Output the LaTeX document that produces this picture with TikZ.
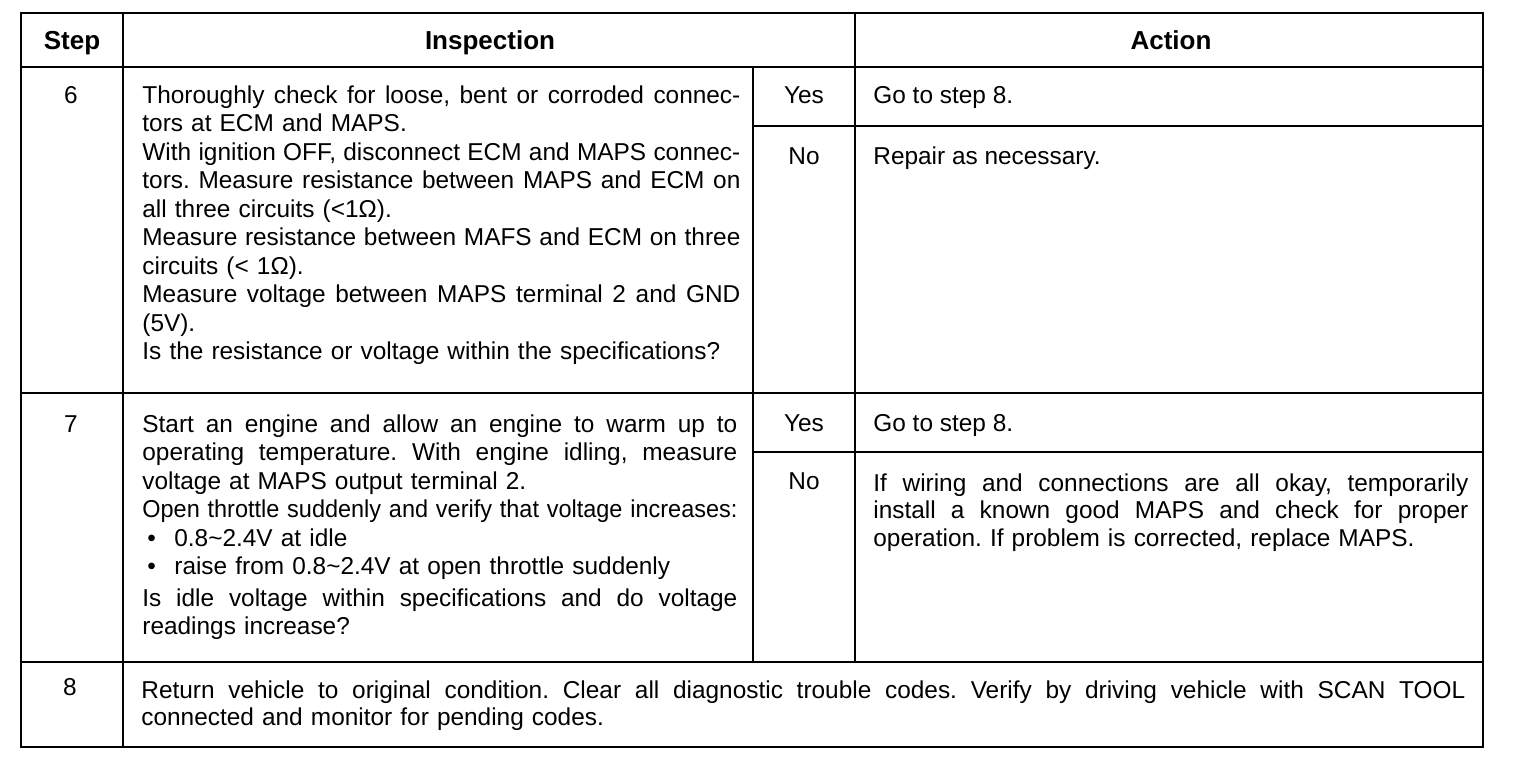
\documentclass[tikz,border=0pt]{standalone}
\usepackage{fontspec}
\setmainfont{Liberation Sans}
\usepackage{graphicx}
\newlength{\cw}
\newcommand{\jl}[1]{\leavevmode\hbox to \cw{\spaceskip=0pt\xspaceskip=0pt\relax #1}}
\newcommand{\sq}[1]{\leavevmode\resizebox{\cw}{\height}{#1}}
\newcommand{\bul}{\leavevmode\makebox[16pt][l]{\hspace*{2.5pt}•}}
\frenchspacing
\tikzset{
  gridline/.style={line width=1pt},
  frameline/.style={line width=1.4pt},
  hdr/.style={font=\fontsize{13}{15}\selectfont\bfseries, anchor=base, inner sep=0pt},
  cell/.style={font=\fontsize{12.2}{14.25}\selectfont, anchor=base west, inner sep=0pt, align=left},
  mid/.style={font=\fontsize{12.2}{14.25}\selectfont, anchor=base, inner sep=0pt},
}
\begin{document}
\begin{tikzpicture}[x=0.5pt,y=-0.5pt]
\useasboundingbox (0,0) rectangle (1520,760);
\fill[white] (0,0) rectangle (1520,760);
% grid
\draw[gridline] (123,13) -- (123,747);
\draw[gridline] (21,67) -- (1483,67);
\draw[gridline] (21,393) -- (1483,393);
\draw[gridline] (21,662) -- (1483,662);
\draw[gridline] (753,67) -- (753,662);
\draw[gridline] (855,13) -- (855,662);
\draw[gridline] (753,126) -- (1483,126);
\draw[gridline] (753,452) -- (1483,452);
\draw[frameline] (21,13) rectangle (1483,747);
% header
\node[hdr] (hstep) at (72,49) {Step};
\node[hdr] (hinsp) at (490,49) {Inspection};
\node[hdr] (hact) at (1171,49) {Action};
% step numbers
\node[mid] (s6) at (71,103) {6};
\node[mid] (s7) at (71,432) {7};
\node[mid] (s8) at (70,695) {8};
% inspection texts
\node[cell, text width=299pt] (i6) at (142,103) {\setlength{\cw}{299pt}%
\jl{Thoroughly check for loose, bent or corroded connec-}\\
tors at ECM and MAPS.\\
\jl{With ignition OFF, disconnect ECM and MAPS connec-}\\
\jl{tors. Measure resistance between MAPS and ECM on}\\
all three circuits (<1Ω).\\
\jl{Measure resistance between MAFS and ECM on three}\\
circuits (< 1Ω).\\
\jl{Measure voltage between MAPS terminal 2 and GND}\\
(5V).\\
Is the resistance or voltage within the specifications?};
\node[cell, text width=297.5pt] (i7) at (142,432) {\setlength{\cw}{297.5pt}%
\jl{Start an engine and allow an engine to warm up to}\\
\jl{operating temperature. With engine idling, measure}\\
voltage at MAPS output terminal 2.\\
\sq{Open throttle suddenly and verify that voltage increases:}\\
\bul 0.8\textasciitilde 2.4V at idle\\
\bul raise from 0.8\textasciitilde 2.4V at open throttle suddenly\\[1.5pt]
\jl{Is idle voltage within specifications and do voltage}\\
readings increase?};
\node[cell, text width=662pt, font=\fontsize{12.2}{13.6}\selectfont] (i8) at (141,698) {\setlength{\cw}{662pt}%
\jl{Return vehicle to original condition. Clear all diagnostic trouble codes. Verify by driving vehicle with SCAN TOOL}\\
connected and monitor for pending codes.};
% yes / no
\node[mid] (y6) at (804,103) {Yes};
\node[mid] (n6) at (804,164) {No};
\node[mid] (y7) at (804,431) {Yes};
\node[mid] (n7) at (804,489) {No};
% actions
\node[cell] (a6y) at (873,103) {Go to step 8.};
\node[cell] (a6n) at (873,164) {Repair as necessary.};
\node[cell] (a7y) at (873,431) {Go to step 8.};
\node[cell, text width=297.5pt, font=\fontsize{12.2}{13.8}\selectfont] (a7n) at (873,491) {\setlength{\cw}{297.5pt}%
\jl{If wiring and connections are all okay, temporarily}\\
\jl{install a known good MAPS and check for proper}\\
operation. If problem is corrected, replace MAPS.};
\end{tikzpicture}
\end{document}
